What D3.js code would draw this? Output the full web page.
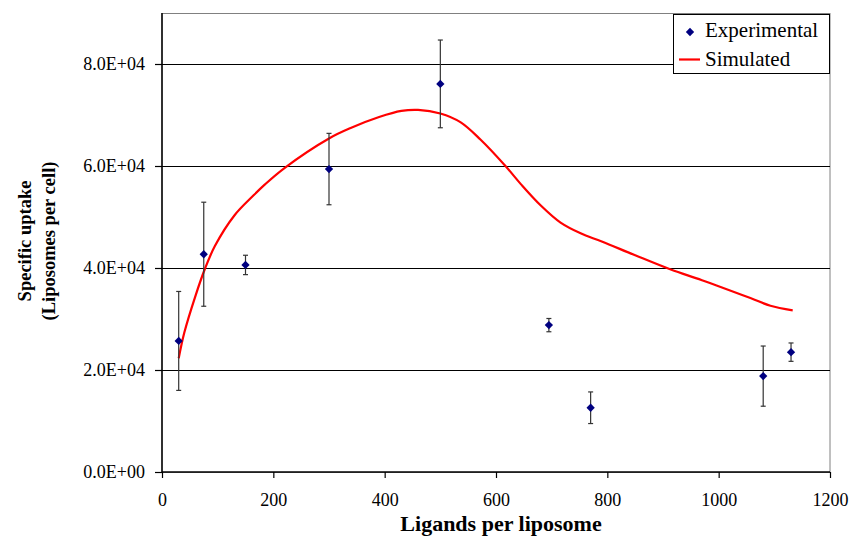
<!DOCTYPE html>
<html>
<head>
<meta charset="utf-8">
<script src="https://cdn.jsdelivr.net/npm/d3@7"></script>
<style>
  body { margin: 0; background: #fff; }
  text { font-family: "Liberation Serif", "Times New Roman", serif; }
</style>
</head>
<body>
<svg width="850" height="544"></svg>
<script>
// experimental points
var expX = [30, 75, 150, 300, 500, 695, 770, 1080, 1130];
var expY = [25700, 42700, 40600, 59400, 76100, 28800, 12600, 18800, 23500];
var expErr = [9700, 10200, 1900, 7000, 8600, 1300, 3100, 5900, 1800];

// simulated curve
var simX = [30, 40, 60, 77, 95, 130, 165, 185, 220, 300, 340, 390, 430, 460, 500, 536, 572, 617, 645, 680, 716, 752, 790, 850, 914, 970, 1057, 1093, 1133];
var simY = [22300, 27300, 34500, 39800, 44300, 50300, 54300, 56400, 59600, 65400, 67500, 69600, 70800, 71000, 70300, 68600, 65200, 60000, 56400, 52300, 48900, 46800, 45200, 42500, 39700, 37600, 34100, 32600, 31700];

var xTicks = [0, 200, 400, 600, 800, 1000, 1200];
var yTicks = [0, 20000, 40000, 60000, 80000];

var plotL = 162, plotR = 830, plotT = 13, plotB = 472;

var svg = d3.select('svg');

var x = d3.scaleLinear().domain([0, 1200]).range([plotL, plotR]);
var y = d3.scaleLinear().domain([0, 90000]).range([plotB, plotT]);

// plot frame
svg.append('rect')
    .attr('x', plotL).attr('y', plotT + 0.5)
    .attr('width', plotR - plotL).attr('height', plotB - plotT)
    .attr('fill', 'none').attr('stroke', '#808080').attr('stroke-width', 1);

// gridlines
svg.selectAll('.grid')
    .data(yTicks.slice(1))
    .enter()
    .append('line')
    .attr('x1', plotL).attr('x2', plotR)
    .attr('y1', function(d){ return Math.round(y(d)) + 0.5; })
    .attr('y2', function(d){ return Math.round(y(d)) + 0.5; })
    .attr('stroke', '#000').attr('stroke-width', 1);

// axes
var xAxis = svg.append('g')
    .attr('transform', 'translate(0,' + plotB + ')')
    .call(d3.axisBottom(x).tickValues(xTicks).tickSize(6).tickPadding(15).tickFormat(d3.format('d')));
var yAxis = svg.append('g')
    .attr('transform', 'translate(' + plotL + ',0)')
    .call(d3.axisLeft(y).tickValues(yTicks).tickSize(7).tickPadding(10)
        .tickFormat(function(d){
            var parts = d3.format('.1e')(d).split('e');
            var ex = Math.abs(parseInt(parts[1]));
            return parts[0] + 'E+' + (ex < 10 ? '0' + ex : ex);
        }));

[xAxis, yAxis].forEach(function(g){
    g.select('.domain').attr('stroke', '#000').attr('stroke-width', 1.5);
    g.selectAll('.tick line').attr('stroke', '#000').attr('stroke-width', 1.2);
    g.selectAll('.tick text').attr('font-size', 18).attr('fill', '#000');
});
xAxis.select('.domain').attr('d', 'M' + plotL + ',0H' + plotR);
yAxis.select('.domain').attr('d', 'M0,' + plotT + 'V' + plotB);

// simulated line
var line = d3.line()
    .x(function(d){ return x(d[0]); })
    .y(function(d){ return y(d[1]); })
    .curve(d3.curveCatmullRom.alpha(0.5));
svg.append('path')
    .datum(d3.zip(simX, simY))
    .attr('d', line)
    .attr('fill', 'none')
    .attr('stroke', '#ff0000')
    .attr('stroke-width', 2.2);

// error bars
var exp = d3.range(expX.length).map(function(i){ return {x: expX[i], y: expY[i], e: expErr[i]}; });
var eb = svg.selectAll('.err').data(exp).enter().append('g');
eb.append('line')
    .attr('x1', function(d){ return x(d.x); }).attr('x2', function(d){ return x(d.x); })
    .attr('y1', function(d){ return y(d.y + d.e); }).attr('y2', function(d){ return y(d.y - d.e); })
    .attr('stroke', '#333').attr('stroke-width', 1.2);
[1, -1].forEach(function(s){
    eb.append('line')
        .attr('x1', function(d){ return x(d.x) - 2.5; }).attr('x2', function(d){ return x(d.x) + 2.5; })
        .attr('y1', function(d){ return y(d.y + s * d.e); }).attr('y2', function(d){ return y(d.y + s * d.e); })
        .attr('stroke', '#333').attr('stroke-width', 1.2);
});

// diamonds
var diamond = d3.symbol().type(d3.symbolDiamond2).size(44);
svg.selectAll('.pt').data(exp).enter().append('path')
    .attr('d', diamond)
    .attr('transform', function(d){ return 'translate(' + x(d.x) + ',' + y(d.y) + ')'; })
    .attr('fill', '#000080');

// axis titles
svg.append('text')
    .attr('x', 501).attr('y', 531)
    .attr('text-anchor', 'middle')
    .attr('font-size', 22).attr('font-weight', 'bold')
    .text('Ligands per liposome');
var yt = svg.append('text')
    .attr('transform', 'translate(31,241) rotate(-90)')
    .attr('text-anchor', 'middle')
    .attr('font-size', 18.5).attr('font-weight', 'bold');
yt.append('tspan').attr('x', 0).attr('y', 0).text('Specific uptake');
yt.append('tspan').attr('x', 0).attr('y', 24).text('(Liposomes per cell)');

// legend
var lg = svg.append('g');
lg.append('rect')
    .attr('x', 673.5).attr('y', 14.5).attr('width', 156).attr('height', 59)
    .attr('fill', '#fff').attr('stroke', '#000').attr('stroke-width', 1);
lg.append('path')
    .attr('d', diamond)
    .attr('transform', 'translate(690,32)')
    .attr('fill', '#000080');
lg.append('line')
    .attr('x1', 679).attr('x2', 700).attr('y1', 59.5).attr('y2', 59.5)
    .attr('stroke', '#ff0000').attr('stroke-width', 2.2);
lg.append('text').attr('x', 705).attr('y', 37).attr('font-size', 21).text('Experimental');
lg.append('text').attr('x', 705).attr('y', 66).attr('font-size', 21).text('Simulated');
</script>
</body>
</html>
